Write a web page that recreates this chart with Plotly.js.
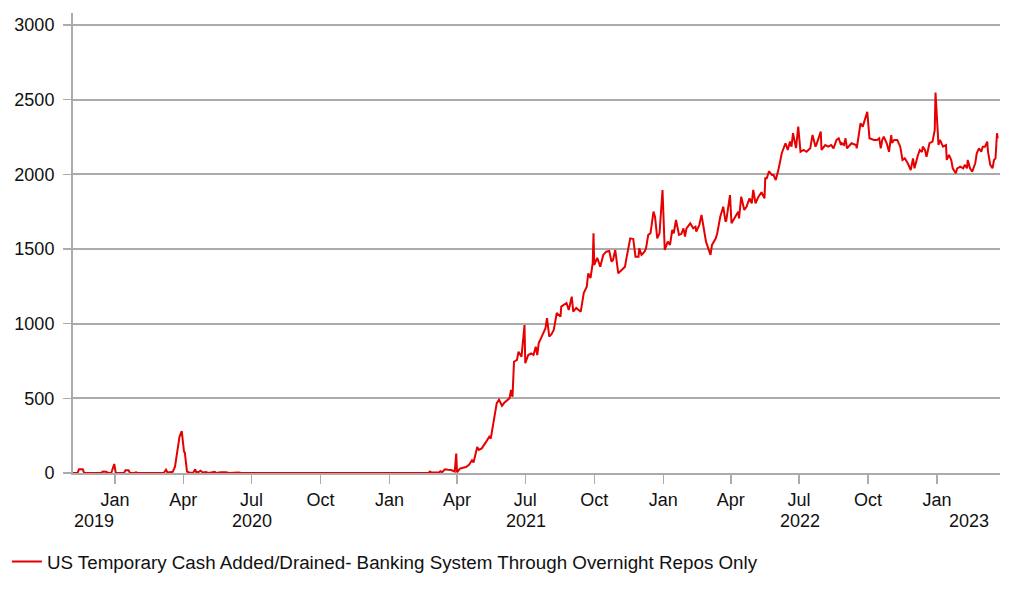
<!DOCTYPE html>
<html>
<head>
<meta charset="utf-8">
<script src="https://cdn.plot.ly/plotly-3.0.1.min.js"></script>
<style>
  html, body { margin: 0; padding: 0; background: #ffffff; }
  #chart { width: 1022px; height: 597px; }
</style>
</head>
<body>
<div id="chart"></div>
<script>
// ---- Data ----
const seriesName = "US Temporary Cash Added/Drained- Banking System Through Overnight Repos Only";

const dates = [
  '2019-11-06','2019-11-12','2019-11-14','2019-11-19','2019-11-21','2019-12-13','2019-12-16','2019-12-20','2019-12-23','2019-12-27',
  '2019-12-31','2020-01-02','2020-01-13','2020-01-15','2020-01-19','2020-01-21','2020-01-27','2020-01-29','2020-01-31','2020-02-12',
  '2020-02-14','2020-02-17','2020-02-25','2020-02-27','2020-03-02','2020-03-06','2020-03-09','2020-03-11','2020-03-14','2020-03-18',
  '2020-03-21','2020-03-24','2020-03-27','2020-03-30','2020-03-31','2020-04-02','2020-04-03','2020-04-06','2020-04-09','2020-04-14',
  '2020-04-17','2020-04-18','2020-04-21','2020-04-24','2020-04-27','2020-05-01','2020-05-05','2020-05-13','2020-05-15','2020-05-21',
  '2020-05-28','2020-06-01','2020-06-14','2020-06-17','2020-09-01','2020-12-31',
  '2021-01-04','2021-01-06','2021-01-27','2021-01-29','2021-02-01','2021-02-22','2021-02-24','2021-02-26','2021-03-08','2021-03-10',
  '2021-03-12','2021-03-16','2021-03-20','2021-03-24','2021-03-29','2021-03-31','2021-04-01','2021-04-05','2021-04-09','2021-04-13',
  '2021-04-17','2021-04-21','2021-04-23','2021-04-28','2021-04-30','2021-05-04','2021-05-10','2021-05-14','2021-05-16','2021-05-20',
  '2021-05-24','2021-05-27','2021-05-31','2021-06-03','2021-06-07','2021-06-10','2021-06-12','2021-06-14','2021-06-16','2021-06-20',
  '2021-06-22','2021-06-26','2021-06-30','2021-07-01','2021-07-05','2021-07-09','2021-07-12','2021-07-15','2021-07-17','2021-07-19',
  '2021-07-23','2021-07-28','2021-07-30','2021-08-02','2021-08-05','2021-08-08','2021-08-12','2021-08-17','2021-08-18','2021-08-25',
  '2021-08-28','2021-09-01','2021-09-03','2021-09-07','2021-09-13','2021-09-14','2021-09-17','2021-09-21','2021-09-23','2021-09-26',
  '2021-09-29','2021-09-30','2021-10-01','2021-10-05','2021-10-09','2021-10-13','2021-10-17','2021-10-21','2021-10-24','2021-10-26',
  '2021-10-29','2021-11-02','2021-11-06','2021-11-11','2021-11-13','2021-11-18','2021-11-22','2021-11-25','2021-11-29','2021-11-30',
  '2021-12-03','2021-12-07','2021-12-09','2021-12-12','2021-12-15','2021-12-19','2021-12-21','2021-12-24','2021-12-27','2021-12-31',
  '2022-01-03','2022-01-07','2022-01-10','2022-01-13','2022-01-15','2022-01-18','2022-01-22','2022-01-25','2022-01-28','2022-01-30',
  '2022-02-01','2022-02-06','2022-02-10','2022-02-13','2022-02-14','2022-02-18','2022-02-21','2022-02-25','2022-02-27','2022-03-05',
  '2022-03-07','2022-03-12','2022-03-14','2022-03-18','2022-03-22','2022-03-25','2022-03-26','2022-03-31','2022-04-02','2022-04-07',
  '2022-04-11','2022-04-12','2022-04-15','2022-04-19','2022-04-22','2022-04-26','2022-04-29','2022-05-01','2022-05-04','2022-05-08',
  '2022-05-12','2022-05-16','2022-05-17','2022-05-19','2022-05-22','2022-05-26','2022-05-28','2022-05-31','2022-06-04','2022-06-08',
  '2022-06-13','2022-06-16','2022-06-19','2022-06-21','2022-06-23','2022-06-27','2022-06-30','2022-07-03','2022-07-07','2022-07-11',
  '2022-07-16','2022-07-19','2022-07-23','2022-07-24','2022-07-30','2022-07-31','2022-08-05','2022-08-09','2022-08-13','2022-08-16',
  '2022-08-20','2022-08-23','2022-08-26','2022-08-27','2022-08-30','2022-09-01','2022-09-03','2022-09-09','2022-09-15','2022-09-16',
  '2022-09-21','2022-09-24','2022-09-27','2022-09-30','2022-10-03','2022-10-09','2022-10-13','2022-10-16','2022-10-18','2022-10-20',
  '2022-10-22','2022-10-26','2022-10-29','2022-11-01','2022-11-02','2022-11-05','2022-11-09','2022-11-13','2022-11-16','2022-11-19',
  '2022-11-23','2022-11-27','2022-11-30','2022-12-02','2022-12-06','2022-12-09','2022-12-12','2022-12-13','2022-12-16','2022-12-18',
  '2022-12-22','2022-12-26','2022-12-29','2022-12-30','2023-01-03','2023-01-05','2023-01-09','2023-01-13','2023-01-14','2023-01-17',
  '2023-01-20','2023-01-22','2023-01-26','2023-01-28','2023-02-01','2023-02-05','2023-02-07','2023-02-10','2023-02-11','2023-02-14',
  '2023-02-17','2023-02-21','2023-02-23','2023-02-26','2023-03-01','2023-03-03','2023-03-06','2023-03-09','2023-03-10','2023-03-13',
  '2023-03-16','2023-03-18','2023-03-20','2023-03-22','2023-03-23'
];

const values = [
  0,0,25,25,0,0,10,8,0,0,
  60,0,0,18,18,0,0,5,0,0,
  4,0,0,4,0,0,22,3,5,8,
  42,155,243,281,221,143,140,9,3,0,
  25,8,5,15,3,6,0,8,0,5,
  5,0,3,0,0,0,
  5,0,0,5,0,0,10,3,3,12,
  5,25,22,20,10,130,5,30,35,40,
  55,85,70,175,155,165,210,243,230,355,
  468,490,450,470,490,500,556,510,745,757,
  812,779,991,735,790,800,790,846,790,870,
  913,970,1037,913,930,958,1071,1047,1114,1138,
  1091,1181,1080,1105,1080,1105,1205,1248,1337,1305,
  1406,1605,1393,1440,1381,1460,1482,1487,1415,1426,
  1493,1337,1359,1381,1440,1571,1567,1448,1448,1504,
  1460,1482,1504,1594,1605,1750,1716,1571,1605,1895,
  1493,1549,1527,1627,1605,1694,1594,1600,1638,1583,
  1638,1672,1638,1649,1616,1660,1728,1616,1549,1460,
  1527,1571,1605,1716,1783,1683,1690,1861,1672,1716,
  1750,1705,1850,1761,1783,1839,1806,1895,1806,1850,
  1880,1839,1973,1973,2020,1995,1995,1962,2040,2141,
  2208,2163,2219,2185,2275,2175,2319,2151,2163,2151,
  2174,2263,2185,2196,2286,2163,2196,2185,2196,2174,
  2230,2241,2196,2208,2196,2241,2174,2208,2196,2174,
  2341,2319,2364,2419,2241,2230,2230,2241,2174,2230,
  2252,2208,2151,2263,2210,2230,2230,2185,2096,2107,
  2074,2029,2107,2040,2118,2163,2150,2185,2163,2118,
  2208,2219,2297,2547,2196,2230,2185,2196,2096,2130,
  2096,2040,2007,2040,2051,2040,2063,2040,2096,2040,
  2018,2074,2141,2174,2151,2185,2185,2219,2151,2063,
  2040,2096,2107,2275,2241
];

const tickDates = ['2020-01-01','2020-04-01','2020-07-01','2020-10-01','2021-01-01','2021-04-01','2021-07-01','2021-10-01',
                   '2022-01-01','2022-04-01','2022-07-01','2022-10-01','2023-01-01'];
const tickLabels = ['Jan','Apr','Jul','Oct','Jan','Apr','Jul','Oct','Jan','Apr','Jul','Oct','Jan'];

const yearLabels = ['2019','2020','2021','2022','2023'];
const yearCenters = ['2019-12-04','2020-07-01','2021-07-02','2022-07-02','2023-02-13'];

const yTicks = [0,500,1000,1500,2000,2500,3000];

const xRange = ['2019-11-06','2023-03-26'];
const yRange = [0, 3080];

// ---- Chart ----
const FONT = '"Liberation Sans", Arial, sans-serif';
const GRID = '#ababab';
const TXT = '#111111';

const trace = {
  type: 'scatter',
  mode: 'lines',
  x: dates,
  y: values,
  name: seriesName,
  line: { color: '#e60000', width: 2 },
  hoverinfo: 'x+y'
};

const annotations = yearLabels.map((t, i) => ({
  text: t, x: yearCenters[i], xref: 'x', y: 0, yref: 'paper',
  yanchor: 'middle', xanchor: 'center', yshift: -48, showarrow: false,
  font: { family: FONT, size: 18, color: TXT }
}));

const layout = {
  width: 1022, height: 597,
  margin: { l: 73, r: 22, t: 13, b: 124, autoexpand: false },
  paper_bgcolor: '#ffffff', plot_bgcolor: '#ffffff',
  font: { family: FONT, size: 18, color: TXT },
  showlegend: true,
  legend: {
    orientation: 'h', x: -0.0713, xanchor: 'left', y: -0.193, yanchor: 'middle',
    font: { family: FONT, size: 18.8, color: TXT }, bgcolor: 'rgba(0,0,0,0)'
  },
  xaxis: {
    type: 'date', range: xRange, automargin: false,
    tickmode: 'array', tickvals: tickDates, ticktext: tickLabels,
    ticks: 'outside', ticklen: 9, tickwidth: 1.5, tickcolor: GRID,
    showgrid: false, zeroline: false,
    showline: true, linecolor: GRID, linewidth: 2,
    tickfont: { family: FONT, size: 18, color: TXT }
  },
  yaxis: {
    range: yRange, tickmode: 'array', tickvals: yTicks, automargin: false,
    ticks: 'outside', ticklen: 8, tickwidth: 1.5, tickcolor: GRID,
    ticklabelstandoff: 5,
    showgrid: true, gridcolor: GRID, gridwidth: 2,
    zeroline: false, showline: true, linecolor: GRID, linewidth: 2,
    tickfont: { family: FONT, size: 18, color: TXT }
  },
  annotations: annotations
};

Plotly.newPlot('chart', [trace], layout, { displayModeBar: false, staticPlot: true });
</script>
</body>
</html>
